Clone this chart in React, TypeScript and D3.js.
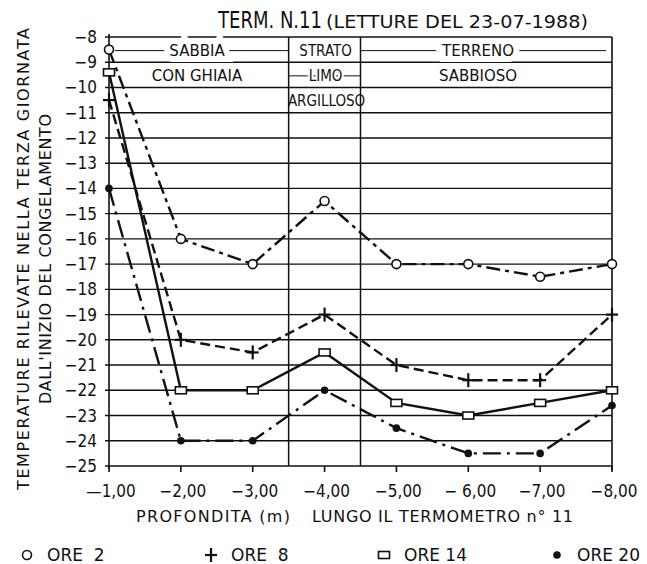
import * as d3 from 'd3'
import React from 'react'

// depths along the thermometer (m)
const depths = [-1, -2, -3, -4, -5, -6, -7, -8]
const depthLabels = ['\u20141,00', '\u22122,00', '\u22123,00', '\u22124,00', '\u22125,00', '\u2212 6,00', '\u22127,00', '\u22128,00']

// temperatures read on 23-07-1988
const ore2 = [-8.5, -16, -17, -14.5, -17, -17, -17.5, -17]
const ore8 = [-10.5, -20, -20.5, -19, -21, -21.6, -21.6, -19]
const ore14 = [-9.4, -22, -22, -20.5, -22.5, -23, -22.5, -22]
const ore20 = [-14, -24, -24, -22, -23.5, -24.5, -24.5, -22.6]

const tempTicks = d3.range(-8, -26, -1)
const layerBounds = [-3.5, -4.5]

const series = [
  { name: 'ORE  2', values: ore2, marker: 'circle', dash: '14,5,4,5' },
  { name: 'ORE  8', values: ore8, marker: 'plus', dash: '10,5' },
  { name: 'ORE 14', values: ore14, marker: 'square', dash: null },
  { name: 'ORE 20', values: ore20, marker: 'dot', dash: '18,6,3,6' },
]

const COND = '"DejaVu Sans Condensed", "DejaVu Sans", sans-serif'
const SANS = '"DejaVu Sans", sans-serif'
const INK = '#111'

const Marker = ({ type, x, y }) => {
  if (type === 'circle') return <circle cx={x} cy={y} r={4.5} fill="white" stroke={INK} strokeWidth={1.6} />
  if (type === 'square') return <rect x={x - 5.5} y={y - 3.5} width={11} height={7} fill="white" stroke={INK} strokeWidth={1.6} />
  if (type === 'dot') return <circle cx={x} cy={y} r={3.8} fill={INK} />
  return (
    <g stroke={INK} strokeWidth={2.2}>
      <line x1={x - 6} x2={x + 6} y1={y} y2={y} />
      <line x1={x} x2={x} y1={y - 7} y2={y + 7} />
    </g>
  )
}

const App = () => {
  const width = 647
  const height = 564
  const x = d3.scaleLinear().domain([-1, -8]).range([109, 612])
  const y = d3.scaleLinear().domain([-8, -25]).range([37, 466])
  const line = d3
    .line<number>()
    .x((d, i) => x(depths[i]))
    .y((d) => y(d))

  const halo = (w) => ({ paintOrder: 'stroke', stroke: 'white', strokeWidth: w }) as any

  return (
    <svg width={width} height={height} style={{ position: 'absolute', left: 0, top: 0 }} fontFamily={COND}>
      <rect width={width} height={height} fill="white" />
      {/* title */}
      <text x={218} y={28} fontSize={23} fill={INK} textLength={104} lengthAdjust="spacingAndGlyphs">TERM. N.11</text>
      <text x={326} y={28} fontSize={17} fill={INK} fontFamily={SANS} textLength={262} lengthAdjust="spacingAndGlyphs">(LETTURE DEL 23-07-1988)</text>

      {/* grid */}
      {tempTicks.map((t) => (
        <g key={t}>
          <line x1={x(-1) - 4} x2={x(-8)} y1={y(t)} y2={y(t)} stroke={INK} strokeWidth={1.4} />
          <text x={97} y={y(t) + 6} textAnchor="end" fontSize={17} fill={INK}>
            {'\u2212' + Math.abs(t)}
          </text>
        </g>
      ))}
      <line x1={x(-1)} x2={x(-1)} y1={y(-8) - 3} y2={y(-25) + 3} stroke={INK} strokeWidth={1.6} />
      <line x1={x(-8)} x2={x(-8)} y1={y(-8)} y2={y(-25) + 4} stroke={INK} strokeWidth={1.6} />
      {layerBounds.map((b) => (
        <line key={b} x1={x(b)} x2={x(b)} y1={y(-8)} y2={y(-25)} stroke={INK} strokeWidth={1.5} />
      ))}
      {depths.map((d, i) => (
        <g key={d}>
          <line x1={x(d)} x2={x(d)} y1={y(-25)} y2={y(-25) + 6} stroke={INK} strokeWidth={1.6} />
          <text x={x(d) + 2} y={497} textAnchor="middle" fontSize={17} fill={INK}>
            {depthLabels[i]}
          </text>
        </g>
      ))}

      {/* soil layers */}
      <g stroke={INK} strokeWidth={1}>
        <line x1={x(-1) + 6} x2={x(-3.5)} y1={y(-8.5) + 1} y2={y(-8.5) + 1} />
        <line x1={x(-4.5)} x2={x(-8) - 6} y1={y(-8.5) + 1} y2={y(-8.5) + 1} />
        <line x1={x(-3.5)} x2={x(-4.5)} y1={y(-9.5) + 1} y2={y(-9.5) + 1} />
      </g>
      <g fontSize={15} fill={INK} textAnchor="middle" fontFamily={SANS}>
        <text x={197} y={y(-8.5) + 6} style={halo(12)}>SABBIA</text>
        <text x={x(-4) + 1} y={y(-8.5) + 6} fontFamily={COND} style={halo(4)}>STRATO</text>
        <text x={478} y={y(-8.5) + 6} style={halo(12)}>TERRENO</text>
        <text x={197} y={y(-9.5) + 6}>CON  GHIAIA</text>
        <text x={x(-4) + 1} y={y(-9.5) + 6} fontFamily={COND} style={halo(4)}>LIMO</text>
        <text x={478} y={y(-9.5) + 6}>SABBIOSO</text>
        <text x={x(-4) + 2} y={y(-10.5) + 6} fontFamily={COND}>ARGILLOSO</text>
      </g>

      {/* series */}
      {series.map((s) => (
        <g key={s.name}>
          <path d={line(s.values)} fill="none" stroke={INK} strokeWidth={2.4} strokeDasharray={s.dash || undefined} />
          {s.values.map((v, i) => (
            <Marker key={i} type={s.marker} x={x(depths[i])} y={y(v)} />
          ))}
        </g>
      ))}

      {/* axis titles */}
      <g fontSize={16} fill={INK} fontFamily={SANS}>
        <text x={136} y={522} textLength={154} lengthAdjust="spacing">PROFONDITA (m)</text>
        <text x={312} y={522} textLength={261} lengthAdjust="spacing">LUNGO IL TERMOMETRO n° 11</text>
        <text transform="translate(29,490) rotate(-90)" textLength={462} lengthAdjust="spacing">
          TEMPERATURE RILEVATE NELLA TERZA GIORNATA
        </text>
        <text transform="translate(51,404) rotate(-90)" textLength={290} lengthAdjust="spacing">
          DALL'INIZIO  DEL  CONGELAMENTO
        </text>
      </g>

      {/* legend */}
      {series.map((s, i) => {
        const lx = [27, 211, 384, 557][i]
        return (
          <g key={s.name}>
            <Marker type={s.marker} x={lx} y={555} />
            <text x={lx + 20} y={561} fontSize={17} fill={INK} fontFamily={SANS} style={{ whiteSpace: 'pre' }}>
              {s.name}
            </text>
          </g>
        )
      })}
    </svg>
  )
}

export default App
